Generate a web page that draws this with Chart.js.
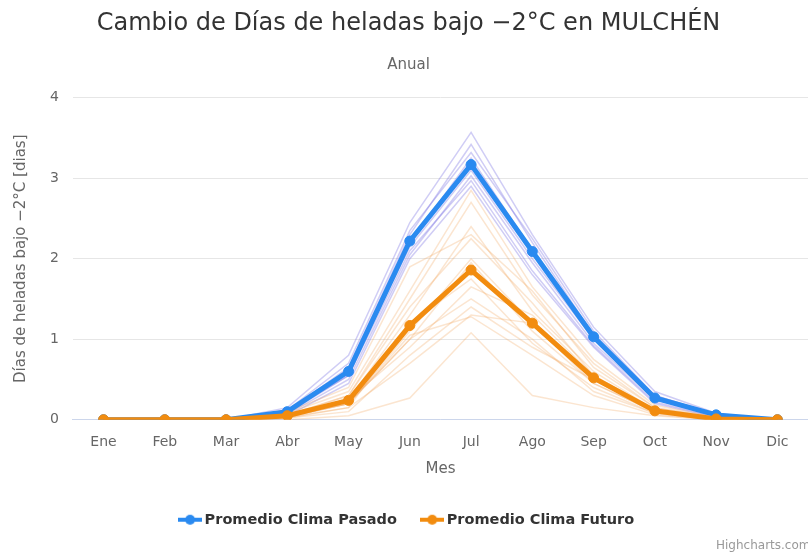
<!DOCTYPE html>
<html>
<head>
<meta charset="utf-8">
<script src="https://cdn.jsdelivr.net/npm/chart.js@4.4.1/dist/chart.umd.min.js"></script>
<style>
  body { margin: 0; background: #fff; }
  #wrap { width: 808px; height: 552px; }
</style>
</head>
<body>
<div id="wrap"><canvas id="chart" width="808" height="552"></canvas></div>
<script>
// meses
const meses = ['Ene', 'Feb', 'Mar', 'Abr', 'May', 'Jun', 'Jul', 'Ago', 'Sep', 'Oct', 'Nov', 'Dic'];

// promedios
const promedioPasado = [0, 0, 0, 0.10, 0.60, 2.22, 3.17, 2.09, 1.03, 0.27, 0.06, 0];
const promedioFuturo = [0, 0, 0, 0.05, 0.24, 1.17, 1.86, 1.20, 0.52, 0.11, 0.01, 0];

// modelos individuales (clima pasado)
const modelosPasado = [
  [0, 0, 0, 0.15, 0.80, 2.45, 3.57, 2.30, 1.15, 0.35, 0.08, 0],
  [0, 0, 0, 0.10, 0.65, 2.30, 3.42, 2.20, 1.05, 0.30, 0.06, 0],
  [0, 0, 0, 0.12, 0.70, 2.35, 3.32, 2.25, 1.10, 0.30, 0.07, 0],
  [0, 0, 0, 0.08, 0.55, 2.20, 3.25, 2.10, 1.00, 0.28, 0.05, 0],
  [0, 0, 0, 0.10, 0.60, 2.15, 3.10, 2.00, 1.00, 0.25, 0.06, 0],
  [0, 0, 0, 0.07, 0.50, 2.05, 3.03, 1.95, 0.95, 0.25, 0.05, 0],
  [0, 0, 0, 0.10, 0.55, 2.10, 2.97, 1.85, 0.92, 0.22, 0.04, 0],
  [0, 0, 0, 0.05, 0.45, 2.00, 2.90, 1.80, 0.90, 0.20, 0.03, 0]
];

// modelos individuales (clima futuro)
const modelosFuturo = [
  [0, 0, 0, 0.08, 0.35, 1.60, 2.85, 1.65, 0.75, 0.18, 0.03, 0],
  [0, 0, 0, 0.06, 0.30, 1.50, 2.70, 1.55, 0.70, 0.15, 0.02, 0],
  [0, 0, 0, 0.05, 0.25, 1.30, 2.40, 1.35, 0.60, 0.12, 0.02, 0],
  [0, 0, 0, 0.10, 0.40, 1.90, 2.30, 1.60, 0.65, 0.15, 0.03, 0],
  [0, 0, 0, 0.05, 0.30, 1.40, 2.25, 1.45, 0.55, 0.12, 0.01, 0],
  [0, 0, 0, 0.04, 0.20, 1.10, 2.00, 1.20, 0.50, 0.10, 0.01, 0],
  [0, 0, 0, 0.03, 0.20, 1.00, 1.95, 1.10, 0.45, 0.10, 0.01, 0],
  [0, 0, 0, 0.03, 0.15, 1.20, 1.75, 0.95, 0.40, 0.08, 0.00, 0],
  [0, 0, 0, 0.05, 0.25, 0.90, 1.65, 1.30, 0.55, 0.12, 0.02, 0],
  [0, 0, 0, 0.03, 0.20, 1.00, 1.50, 1.00, 0.35, 0.08, 0.01, 0],
  [0, 0, 0, 0.02, 0.10, 0.80, 1.40, 0.90, 0.50, 0.10, 0.00, 0],
  [0, 0, 0, 0.02, 0.15, 0.70, 1.30, 1.20, 0.45, 0.10, 0.01, 0],
  [0, 0, 0, 0.04, 0.20, 1.05, 1.28, 0.80, 0.30, 0.06, 0.00, 0],
  [0, 0, 0, 0.00, 0.05, 0.27, 1.08, 0.30, 0.15, 0.05, 0.00, 0]
];

const AZUL = '#2a8af0';
const NARANJA = '#f28c0f';
const FONT = "'DejaVu Sans', sans-serif";

// simbolo de leyenda estilo highcharts: linea + circulo
function simbolo(color) {
  const c = document.createElement('canvas');
  c.width = 24; c.height = 12;
  const g = c.getContext('2d');
  g.strokeStyle = color;
  g.lineWidth = 4;
  g.beginPath(); g.moveTo(0, 6); g.lineTo(24, 6); g.stroke();
  g.fillStyle = color;
  g.beginPath(); g.arc(12, 6, 5, 0, Math.PI * 2); g.fill();
  return c;
}

const datasets = [
  {
    label: 'Promedio Clima Pasado',
    data: promedioPasado,
    borderColor: AZUL,
    backgroundColor: AZUL,
    borderWidth: 5,
    pointRadius: 5,
    pointBorderWidth: 1,
    pointHoverRadius: 5,
    simbolo: simbolo(AZUL),
    order: 1
  },
  {
    label: 'Promedio Clima Futuro',
    data: promedioFuturo,
    borderColor: NARANJA,
    backgroundColor: NARANJA,
    borderWidth: 5,
    pointRadius: 5,
    pointBorderWidth: 1,
    pointHoverRadius: 5,
    simbolo: simbolo(NARANJA),
    order: 0
  }
];

modelosPasado.forEach((serie, i) => {
  datasets.push({
    label: 'pasado ' + i,
    data: serie,
    borderColor: 'rgba(110, 100, 225, 0.32)',
    borderWidth: 1.5,
    pointRadius: 0,
    modelo: true,
    order: 3
  });
});

modelosFuturo.forEach((serie, i) => {
  datasets.push({
    label: 'futuro ' + i,
    data: serie,
    borderColor: 'rgba(240, 160, 80, 0.27)',
    borderWidth: 1.5,
    pointRadius: 0,
    modelo: true,
    order: 2
  });
});

const credits = {
  id: 'credits',
  afterDraw(chart) {
    const ctx = chart.ctx;
    ctx.save();
    ctx.font = '12px ' + FONT;
    ctx.fillStyle = '#999';
    ctx.textAlign = 'left';
    ctx.textBaseline = 'alphabetic';
    ctx.fillText('Highcharts.com', 716, 549);
    ctx.restore();
  }
};

new Chart(document.getElementById('chart'), {
  type: 'line',
  data: { labels: meses, datasets: datasets },
  plugins: [credits],
  options: {
    responsive: false,
    animation: false,
    devicePixelRatio: 1,
    layout: { autoPadding: false, padding: { left: 8, right: -1, top: 6, bottom: 15 } },
    elements: { line: { tension: 0 } },
    plugins: {
      title: {
        display: true,
        text: 'Cambio de Días de heladas bajo −2°C en MULCHÉN',
        color: '#333',
        font: { family: FONT, size: 24, weight: 'normal' },
        padding: { top: 3, bottom: 18 }
      },
      subtitle: {
        display: true,
        text: 'Anual',
        color: '#666',
        font: { family: FONT, size: 15 },
        padding: { bottom: 24 }
      },
      legend: {
        position: 'bottom',
        labels: {
          usePointStyle: true,
          color: '#333',
          font: { family: FONT, size: 14.5, weight: 'bold' },
          padding: 28,
          generateLabels: (chart) => {
            const items = Chart.defaults.plugins.legend.labels.generateLabels(chart);
            return items
              .filter(it => !chart.data.datasets[it.datasetIndex].modelo)
              .sort((a, b) => a.datasetIndex - b.datasetIndex)
              .map(it => Object.assign(it, { pointStyle: chart.data.datasets[it.datasetIndex].simbolo }));
          }
        }
      },
      tooltip: { enabled: false }
    },
    scales: {
      x: {
        offset: true,
        grid: { display: false },
        border: { color: '#ccd6eb' },
        ticks: { color: '#666', font: { family: FONT, size: 14 }, padding: 6 },
        afterFit: (scale) => { scale.paddingLeft = 0; scale.paddingRight = 0; },
        title: {
          display: true,
          text: 'Mes',
          color: '#666',
          font: { family: FONT, size: 15 },
          padding: { top: 4, bottom: 6 }
        }
      },
      y: {
        min: 0,
        max: 4,
        ticks: { stepSize: 1, color: '#666', font: { family: FONT, size: 14 }, padding: 14 },
        grid: { color: '#e6e6e6', drawTicks: false },
        border: { display: false },
        title: {
          display: true,
          text: 'Días de heladas bajo −2°C [dias]',
          color: '#666',
          font: { family: FONT, size: 15 },
          padding: { bottom: 6 }
        }
      }
    }
  }
});
</script>
</body>
</html>
